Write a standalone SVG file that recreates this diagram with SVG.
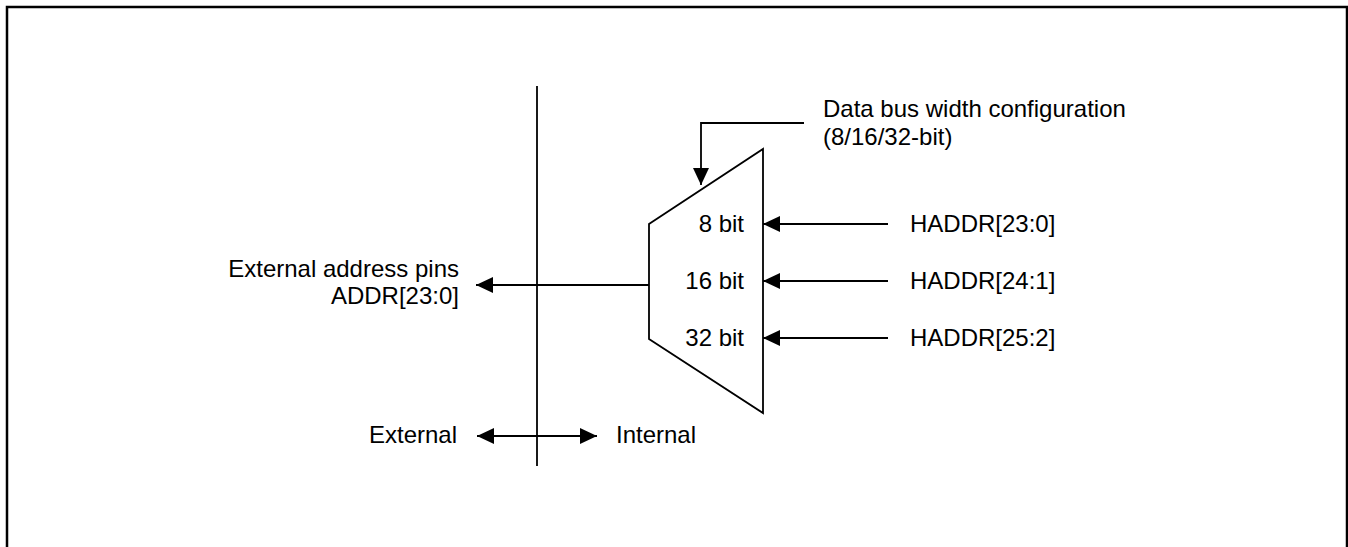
<svg xmlns="http://www.w3.org/2000/svg" width="1348" height="547" viewBox="0 0 1348 547">
<defs>
<style>
text{font-family:"Liberation Sans",Arial,sans-serif;font-size:24px;fill:#000}
.ln{stroke:#000;stroke-width:1.8;fill:none}
.r{text-anchor:end}
</style>
<marker id="ah" viewBox="0 0 17 16" refX="17" refY="8" markerWidth="17" markerHeight="16" markerUnits="userSpaceOnUse" orient="auto-start-reverse">
<path d="M0,0 L17,8 L0,16 Z" fill="#000"/>
</marker>
</defs>
<rect x="7" y="7" width="1340" height="560" fill="#fff" stroke="#000" stroke-width="2.5"/>
<g id="divider"><line class="ln" x1="537" y1="86" x2="537" y2="466"/></g>
<g id="mux">
<path class="ln" d="M763,149 L763,413 L649,339 L649,224 Z"/>
<text class="r" x="744" y="232">8 bit</text>
<text class="r" x="744" y="289">16 bit</text>
<text class="r" x="744" y="346">32 bit</text>
</g>
<g id="config-label">
<text x="823" y="117">Data bus width configuration</text>
<text x="823" y="145">(8/16/32-bit)</text>
</g>
<g id="ext-pins">
<text class="r" x="459" y="277">External address pins</text>
<text class="r" x="459" y="304">ADDR[23:0]</text>
</g>
<g id="haddr">
<text x="910" y="232">HADDR[23:0]</text>
<text x="910" y="289">HADDR[24:1]</text>
<text x="910" y="346">HADDR[25:2]</text>
</g>
<g id="ext-int">
<text class="r" x="457" y="443">External</text>
<text x="616" y="443">Internal</text>
</g>
<g id="connectors">
<polyline class="ln" points="804,123 701,123 701,185" marker-end="url(#ah)"/>
<line class="ln" x1="649" y1="285" x2="476" y2="285" marker-end="url(#ah)"/>
<line class="ln" x1="888" y1="224" x2="763" y2="224" marker-end="url(#ah)"/>
<line class="ln" x1="888" y1="281" x2="763" y2="281" marker-end="url(#ah)"/>
<line class="ln" x1="888" y1="338" x2="763" y2="338" marker-end="url(#ah)"/>
<line class="ln" x1="477" y1="436" x2="597" y2="436" marker-start="url(#ah)" marker-end="url(#ah)"/>
</g>
</svg>
